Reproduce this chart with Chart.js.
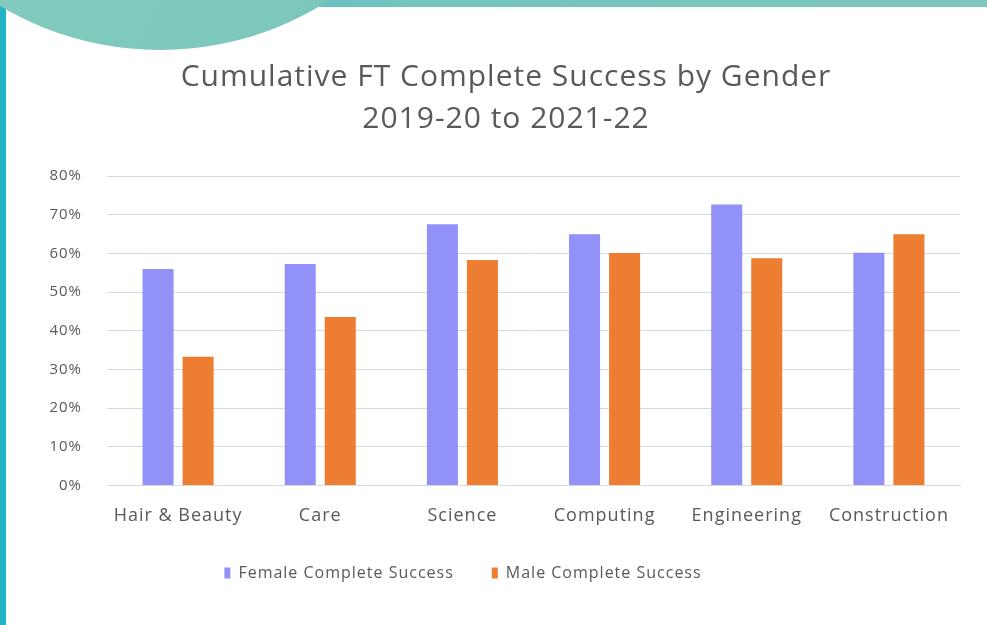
<!DOCTYPE html>
<html>
<head>
<meta charset="utf-8">
<title>Cumulative FT Complete Success by Gender</title>
<script src="https://cdn.jsdelivr.net/npm/chart.js@4.4.1/dist/chart.umd.min.js"></script>
<style>
  html, body { margin: 0; padding: 0; background: #fff; overflow: hidden; }
  .frame { position: relative; width: 987px; height: 625px; background: #fff; }
  .top-band { position: absolute; left: 0; top: 0; width: 987px; height: 7px;
    background: linear-gradient(90deg, #3fb8c6 0%, #72c4be 40%, #7dc7bd 100%); }
  .left-band { position: absolute; left: 0; top: 0; width: 6px; height: 625px; background: #22b5c6; }
  .blob { position: absolute; left: -145px; top: -542px; width: 610px; height: 592px;
    border-radius: 50%; background: linear-gradient(120deg, #8ccdc1 0%, #80c9bd 60%, #79c5bb 100%); }
  #chartBox { position: absolute; left: 6px; top: 7px; width: 981px; height: 618px; }
</style>
</head>
<body>
<div class="frame">
  <div class="top-band"></div>
  <div class="left-band"></div>
  <div class="blob"></div>
  <div id="chartBox"><canvas id="genderChart"></canvas></div>
</div>
<script>
const categories = ['Hair & Beauty', 'Care', 'Science', 'Computing', 'Engineering', 'Construction'];
const femaleSuccess = [56, 57.3, 67.6, 65, 72.7, 60.2];
const maleSuccess = [33.3, 43.6, 58.3, 60.1, 58.8, 65];
const yTicks = [0, 10, 20, 30, 40, 50, 60, 70, 80];

const textGrey = '#595959';

// slightly wider text spacing, set again after every canvas resize
const spacing = {
    id: 'spacing',
    beforeUpdate(chart) { chart.ctx.letterSpacing = '1px'; },
    beforeDraw(chart) { chart.ctx.letterSpacing = '1px'; }
};

// move title right and legend up/left of their default centred spots
const boxShift = {
    id: 'boxShift',
    afterLayout(chart) {
        const t = chart.titleBlock;
        t.left += 23; t.right += 23;
        const lg = chart.legend;
        lg.left -= 20; lg.right -= 20;
        lg.top -= 20; lg.bottom -= 20;
    }
};

const ctx = document.getElementById('genderChart').getContext('2d');
const genderChart = new Chart(ctx, {
    type: 'bar',
    data: {
        labels: categories,
        datasets: [{
            label: 'Female Complete Success',
            data: femaleSuccess,
            backgroundColor: '#9191f7',
            categoryPercentage: 0.563,
            barPercentage: 0.775
        }, {
            label: 'Male Complete Success',
            data: maleSuccess,
            backgroundColor: '#ed7d31',
            categoryPercentage: 0.563,
            barPercentage: 0.775
        }]
    },
    plugins: [spacing, boxShift],
    options: {
        responsive: true,
        maintainAspectRatio: false,
        animation: false,
        layout: { padding: { left: 0, right: 27, top: 49, bottom: 14 } },
        plugins: {
            title: {
                display: true,
                text: ['Cumulative FT Complete Success by Gender', '2019-20 to 2021-22'],
                color: textGrey,
                font: { family: 'Open Sans', size: 30, weight: 'normal', lineHeight: 1.42 },
                padding: { top: 0, bottom: 35 }
            },
            legend: {
                position: 'bottom',
                labels: {
                    color: textGrey,
                    font: { family: 'Open Sans', size: 16 },
                    boxWidth: 6,
                    boxHeight: 11,
                    padding: 38
                }
            },
            tooltip: { enabled: false }
        },
        scales: {
            x: {
                grid: { display: false, drawTicks: false },
                border: { display: true, color: '#d9d9d9', width: 1 },
                ticks: {
                    color: textGrey,
                    font: { family: 'Open Sans', size: 18 },
                    padding: 20,
                    maxRotation: 0
                }
            },
            y: {
                min: 0,
                max: 80,
                afterBuildTicks: (axis) => { axis.ticks = yTicks.map(v => ({ value: v })); },
                afterFit: (axis) => { axis.width = 101; },
                grid: { color: '#d9d9d9', lineWidth: 1, drawTicks: false },
                border: { display: false },
                ticks: {
                    color: textGrey,
                    font: { family: 'Open Sans', size: 15 },
                    padding: 25,
                    callback: (v) => v + '%'
                }
            }
        }
    }
});
</script>
</body>
</html>
